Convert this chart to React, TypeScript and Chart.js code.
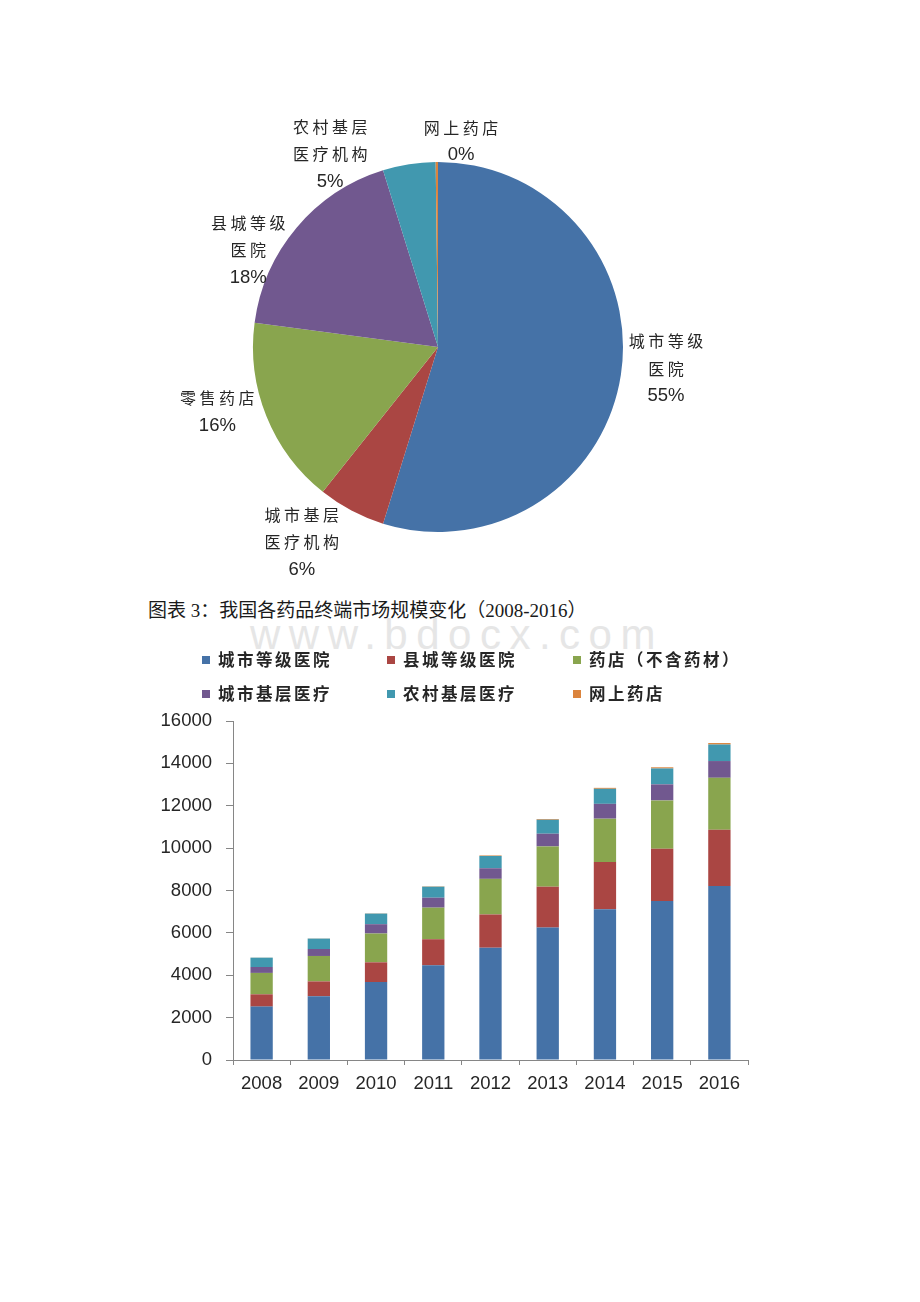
import React, { useEffect, useRef } from 'react';
import { Chart, registerables } from 'chart.js';

Chart.register(...registerables);

// ---------- Pie data (market share by terminal) ----------
const pieCategories = ['城市等级医院', '城市基层医疗机构', '零售药店', '县城等级医院', '农村基层医疗机构', '网上药店'];
const pieShares = [54.8, 5.9, 16.4, 18.1, 4.6, 0.2];
const pieColors = ['#4572A7', '#AA4643', '#89A54E', '#71588F', '#4198AF', '#DB843D'];

// ---------- Stacked bar data (2008-2016) ----------
const years = ['2008', '2009', '2010', '2011', '2012', '2013', '2014', '2015', '2016'];
const seriesNames = ['城市等级医院', '县城等级医院', '药店（不含药材）', '城市基层医疗', '农村基层医疗', '网上药店'];
const urbanHospital = [2520, 3010, 3680, 4470, 5300, 6250, 7110, 7500, 8210];
const countyHospital = [580, 700, 930, 1230, 1570, 1930, 2230, 2470, 2660];
const pharmacy = [1010, 1200, 1360, 1490, 1680, 1900, 2050, 2280, 2450];
const urbanPrimary = [280, 330, 440, 470, 500, 600, 700, 760, 790];
const ruralPrimary = [440, 490, 500, 520, 580, 660, 710, 750, 780];
const onlinePharmacy = [5, 8, 12, 18, 25, 35, 45, 55, 70];
const barColors = ['#4572A7', '#AA4643', '#89A54E', '#71588F', '#4198AF', '#DB843D'];
const yMin = 0;
const yMax = 16000;
const yStep = 2000;

const caption = '图表 3：我国各药品终端市场规模变化（2008-2016）';
const watermark = 'www.bdocx.com';

const CJK = '"Noto Sans CJK SC", "Noto Sans", sans-serif';
const LATIN = '"Liberation Sans", Arial, sans-serif';

// label placement around the pie: angle in degrees clockwise from 12 o'clock, extra distance beyond radius
const pieLabelLayout = [
  { angle: 95.4, extra: 44 },
  { angle: 214.9, extra: 53 },
  { angle: 253.6, extra: 45 },
  { angle: 297, extra: 28 },
  { angle: 330.8, extra: 36 },
  { angle: 6.4, extra: 22 },
];

const pieLabelPlugin = {
  id: 'pieLabels',
  afterDatasetsDraw(chart: any) {
    const ctx = chart.ctx;
    const meta = chart.getDatasetMeta(0);
    const data = chart.data.datasets[0].data as number[];
    const total = data.reduce((a, b) => a + b, 0);
    ctx.save();
    meta.data.forEach((arc: any, i: number) => {
      const { x: cx, y: cy, outerRadius } = arc.getProps(['x', 'y', 'outerRadius'], true);
      const lay = pieLabelLayout[i];
      const d = outerRadius + lay.extra;
      const th = (lay.angle * Math.PI) / 180;
      const x = cx + d * Math.sin(th);
      const y = cy - d * Math.cos(th);
      const name = chart.data.labels[i] as string;
      const lines: string[] = [];
      for (let k = 0; k < name.length; k += 4) lines.push(name.slice(k, k + 4));
      const pct = Math.round((data[i] / total) * 100) + '%';
      const all = [...lines, pct];
      const lh = 27.5;
      const y0 = y - ((all.length - 1) * lh) / 2;
      ctx.textAlign = 'center';
      ctx.textBaseline = 'middle';
      ctx.fillStyle = '#262626';
      all.forEach((t, k) => {
        const isPct = k === all.length - 1;
        ctx.font = isPct ? `18.5px ${LATIN}` : `16px ${CJK}`;
        (ctx as any).letterSpacing = isPct ? '0px' : '3.5px';
        ctx.fillText(t, x + (isPct ? 0 : 1.75), y0 + k * lh);
      });
    });
    ctx.restore();
  },
};

// custom two-row legend for the bar chart (canvas coordinates)
const legendCols = [52, 237, 423];
const legendRows = [20, 54];
const barLegendPlugin = {
  id: 'barLegend',
  afterDraw(chart: any) {
    const ctx = chart.ctx;
    ctx.save();
    chart.data.datasets.forEach((ds: any, i: number) => {
      const col = legendCols[i % 3];
      const row = legendRows[Math.floor(i / 3)];
      ctx.fillStyle = ds.backgroundColor;
      ctx.fillRect(col, row - 4, 8, 8);
      ctx.fillStyle = '#262626';
      ctx.font = `bold 16.5px ${CJK}`;
      (ctx as any).letterSpacing = '2.5px';
      ctx.textAlign = 'left';
      ctx.textBaseline = 'middle';
      ctx.fillText(ds.label, col + 16, row);
    });
    ctx.restore();
  },
};

function PieChart() {
  const ref = useRef<HTMLCanvasElement>(null);
  useEffect(() => {
    const chart = new Chart(ref.current!, {
      type: 'pie',
      data: {
        labels: pieCategories,
        datasets: [
          {
            data: pieShares,
            backgroundColor: pieColors,
            borderWidth: 0,
            hoverOffset: 0,
          },
        ],
      },
      options: {
        animation: false,
        responsive: false,
        events: [],
        layout: { padding: { left: 103, right: 147, top: 62, bottom: 68 } },
        plugins: { legend: { display: false }, tooltip: { enabled: false } },
      },
      plugins: [pieLabelPlugin],
    } as any);
    return () => chart.destroy();
  }, []);
  return (
    <canvas
      ref={ref}
      width={620}
      height={500}
      style={{ position: 'absolute', left: 150, top: 100, width: 620, height: 500 }}
    />
  );
}

function BarChart() {
  const ref = useRef<HTMLCanvasElement>(null);
  useEffect(() => {
    const seriesValues = [urbanHospital, countyHospital, pharmacy, urbanPrimary, ruralPrimary, onlinePharmacy];
    const axisColor = '#868686';
    const chart = new Chart(ref.current!, {
      type: 'bar',
      data: {
        labels: years,
        datasets: seriesValues.map((vals, i) => ({
          label: seriesNames[i],
          data: vals,
          backgroundColor: barColors[i],
          borderWidth: 0,
          categoryPercentage: 1,
          barPercentage: 0.39,
        })),
      },
      options: {
        animation: false,
        responsive: false,
        events: [],
        layout: { padding: { top: 81, right: 22, left: 0, bottom: 0 } },
        plugins: { legend: { display: false }, tooltip: { enabled: false } },
        scales: {
          x: {
            stacked: true,
            grid: { display: true, drawOnChartArea: false, drawTicks: true, tickLength: 5, color: axisColor, offset: true },
            border: { display: true, color: axisColor, width: 1 },
            ticks: { font: { family: LATIN, size: 18.5 }, color: '#262626', padding: 8, maxRotation: 0 },
            afterFit: (s: any) => {
              s.height = 60;
            },
          },
          y: {
            stacked: true,
            min: yMin,
            max: yMax,
            ticks: {
              stepSize: yStep,
              font: { family: LATIN, size: 18.5 },
              color: '#262626',
              padding: 14,
              callback: (v: any) => String(v),
            },
            grid: { display: true, drawOnChartArea: false, drawTicks: true, tickLength: 7, color: axisColor },
            border: { display: true, color: axisColor, width: 1 },
            afterFit: (s: any) => {
              s.width = 83;
            },
          },
        },
      },
      plugins: [barLegendPlugin],
    } as any);
    return () => chart.destroy();
  }, []);
  return (
    <canvas
      ref={ref}
      width={620}
      height={480}
      style={{ position: 'absolute', left: 150, top: 640, width: 620, height: 480 }}
    />
  );
}

export default function App() {
  return (
    <div style={{ position: 'absolute', left: 0, top: 0, width: 920, height: 1302, background: '#ffffff', overflow: 'hidden' }}>
      <div
        style={{
          position: 'absolute',
          left: 250,
          top: 612,
          font: `42px ${LATIN}`,
          letterSpacing: '8.5px',
          color: '#e6e6e6',
          lineHeight: '46px',
          whiteSpace: 'nowrap',
        }}
      >
        {watermark}
      </div>
      <div
        style={{
          position: 'absolute',
          left: 148,
          top: 599,
          fontFamily: `"Liberation Serif", ${CJK}`,
          fontSize: 19,
          lineHeight: '24px',
          color: '#1a1a1a',
          whiteSpace: 'nowrap',
        }}
      >
        {caption}
      </div>
      <PieChart />
      <BarChart />
    </div>
  );
}
